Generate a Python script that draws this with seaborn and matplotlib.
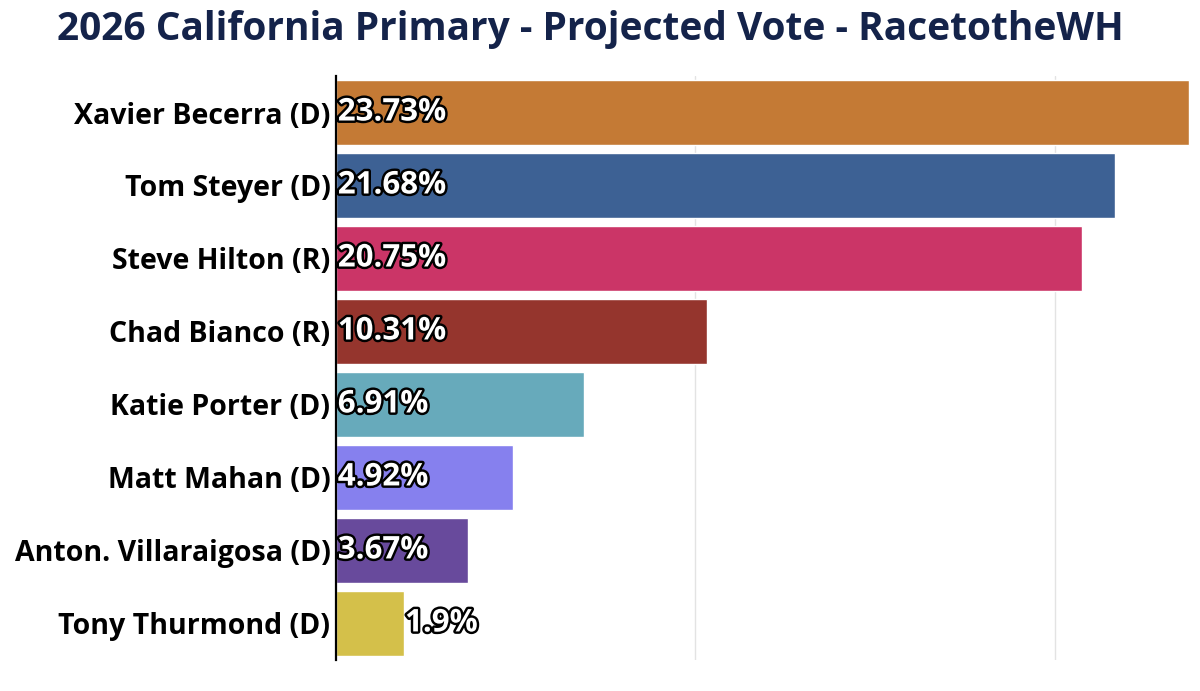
import pandas as pd
import seaborn as sns
import matplotlib.pyplot as plt
import matplotlib.patheffects as pe

# data
candidates = ["Xavier Becerra (D)", "Tom Steyer (D)", "Steve Hilton (R)", "Chad Bianco (R)",
              "Katie Porter (D)", "Matt Mahan (D)", "Anton. Villaraigosa (D)", "Tony Thurmond (D)"]
vote_share = [23.73, 21.68, 20.75, 10.31, 6.91, 4.92, 3.67, 1.9]
value_labels = ["23.73%", "21.68%", "20.75%", "10.31%", "6.91%", "4.92%", "3.67%", "1.9%"]
bar_colors = ["#C47A35", "#3D6194", "#CB3567", "#95352D", "#67AABB", "#8680EE", "#684A9C", "#D4C04A"]

df = pd.DataFrame({"candidate": candidates, "vote": vote_share})

sns.set_style("white")
plt.rcParams["font.family"] = ["Open Sans", "DejaVu Sans"]

fig = plt.figure(figsize=(12, 6.91), dpi=100)
ax = fig.add_axes([0.28, 0.045, 0.7117, 0.845])

sns.barplot(data=df, x="vote", y="candidate", hue="candidate", palette=bar_colors,
            orient="h", width=0.89, legend=False, saturation=1, ax=ax)

ax.set_xlim(0, 23.76)
ax.set_ylim(7.5, -0.5)
ax.set_xticks([10, 20])
ax.set_xticklabels([])
ax.tick_params(axis="x", length=0)
ax.tick_params(axis="y", length=0, pad=4)
ax.xaxis.grid(True, color="#e3e3e3", linewidth=1)
ax.set_axisbelow(True)
for side in ["top", "right", "bottom"]:
    ax.spines[side].set_visible(False)
ax.spines["left"].set_color("black")
ax.spines["left"].set_linewidth(1.6)
ax.set_xlabel("")
ax.set_ylabel("")
for lbl in ax.get_yticklabels():
    lbl.set_fontsize(20.5)
    lbl.set_fontweight("bold")
    lbl.set_color("black")

# labels: inside at left, outside when bar is too short
for i, (v, txt) in enumerate(zip(vote_share, value_labels)):
    x = 0.05 if v > 3 else v + 0.02
    ax.text(x, i, txt, ha="left", va="center", fontsize=22.5, fontweight="bold",
            color="white", path_effects=[pe.withStroke(linewidth=3.5, foreground="black")])

fig.suptitle("2026 California Primary - Projected Vote - RacetotheWH", x=0.492, y=0.985,
             fontsize=28, fontweight="bold", color="#14234A")

fig.savefig("out.png", dpi=100)
